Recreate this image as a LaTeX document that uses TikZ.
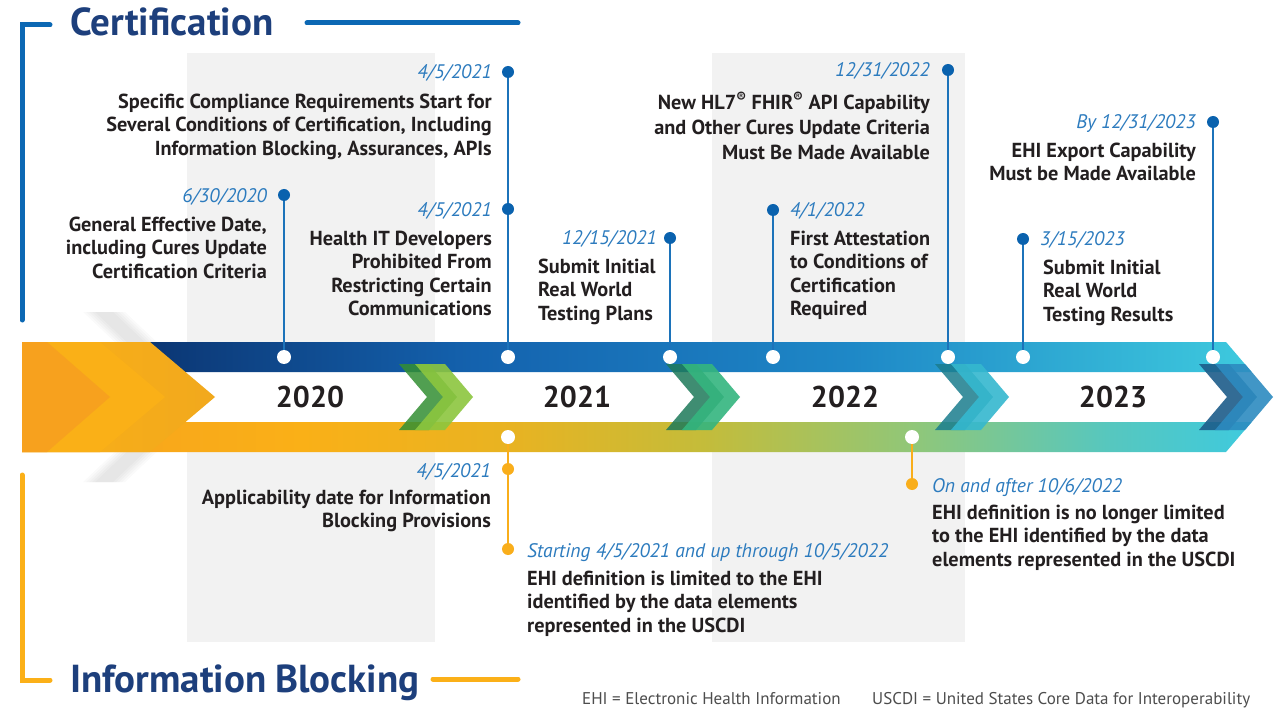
\documentclass[tikz,border=0pt]{standalone}
\usepackage{fontspec}
\setmainfont{PT Sans}
\definecolor{bandgray}{HTML}{F2F2F2}
\definecolor{bracketblue}{HTML}{0C68B4}
\definecolor{bracketorange}{HTML}{FBB018}
\definecolor{titlenavy}{HTML}{1D3F7C}
\definecolor{dateblue}{HTML}{2C7BBE}
\definecolor{txt}{HTML}{231F20}
\definecolor{dotblue}{HTML}{0A62AE}
\definecolor{lineblue}{HTML}{1C73BA}
\definecolor{dotorange}{HTML}{F9AE1B}
\definecolor{footgray}{HTML}{4D4D4D}
\definecolor{tb0}{HTML}{0B3572}
\definecolor{tb1}{HTML}{1462AE}
\definecolor{tb2}{HTML}{1E88C7}
\definecolor{tb3}{HTML}{3ECADE}
\definecolor{bb0}{HTML}{F7A11E}
\definecolor{bb1}{HTML}{FAB017}
\definecolor{bb2}{HTML}{E8B322}
\definecolor{bb3}{HTML}{C4BC3A}
\definecolor{bb4}{HTML}{8FC77A}
\definecolor{bb5}{HTML}{57C7BE}
\definecolor{bb6}{HTML}{3ECADE}
\pgfdeclarehorizontalshading{topband}{100bp}{color(0bp)=(tb0); color(25bp)=(tb0); color(40bp)=(tb1); color(57bp)=(tb2); color(75bp)=(tb3); color(100bp)=(tb3)}
\pgfdeclarehorizontalshading{botband}{100bp}{color(0bp)=(bb0); color(25bp)=(bb0); color(36.4bp)=(bb1); color(44.9bp)=(bb2); color(52.7bp)=(bb3); color(61.4bp)=(bb4); color(69.1bp)=(bb5); color(75bp)=(bb6); color(100bp)=(bb6)}
\newcommand\bodyfont{\fontsize{20.3}{23.5}\selectfont\bfseries}
\newcommand\datefont{\fontsize{19.6}{23}\selectfont\itshape}
\newcommand\titlefont{\fontsize{39}{41}\selectfont\bfseries}
\newcommand\yearfont{\fontsize{30}{32}\selectfont\bfseries}
\newcommand\footfont{\fontsize{17}{19}\selectfont}
\begin{document}
\begin{tikzpicture}[x=1pt,y=-1pt,
  bline/.style={draw=lineblue, line width=2pt},
  oline/.style={draw=dotorange, line width=2pt},
  bdot/.style={circle, fill=dotblue, minimum size=12pt, inner sep=0pt},
  odot/.style={circle, fill=dotorange, minimum size=12pt, inner sep=0pt},
  wdot/.style={circle, fill=white, minimum size=14pt, inner sep=0pt},
  datelbl/.style={font=\datefont, text=dateblue, inner sep=0pt},
  bodylbl/.style={font=\bodyfont, text=txt, inner sep=0pt},
  yearlbl/.style={font=\yearfont, text=txt, inner sep=0pt},
  titlelbl/.style={font=\titlefont, text=titlenavy, inner sep=0pt},
  footlbl/.style={font=\footfont, text=footgray, inner sep=0pt},
  brk/.style={line width=5pt, line cap=round},
  chev/.pic={\fill[pic actions] (-58,-33) -- (-28,-33) -- (0,0) -- (-28,33) -- (-58,33) -- (-30,0) -- cycle;},
  shadowchev/.pic={\fill[pic actions] (-120,-85) -- (-90,-85) -- (0,0) -- (-90,85) -- (-120,85) -- (-30,0) -- cycle;}
]
\useasboundingbox (0,0) rectangle (1281,708);
\fill[white] (0,0) rectangle (1281,708);
% background bands
\fill[bandgray] (187,53) rectangle (435,642);
\fill[bandgray] (712,53) rectangle (965,642);
% brackets and titles
\draw[brk, bracketblue] (50,25) -- (22,25) -- (22,320);
\draw[brk, bracketblue] (307,23) -- (518,23);
\draw[brk, bracketorange] (22,475) -- (22,680) -- (50,680);
\draw[brk, bracketorange] (433,679) -- (518,679);
\node[titlelbl, anchor=base west] (tcert) at (70,36) {Certification};
\node[titlelbl, anchor=base west] (tinfo) at (70,692) {Information\hspace{-1pt} Blocking};
% soft shadow of the left block
\foreach \s in {0,3,6,9,12}{
  \pic[fill=black, opacity=0.018] at (215-\s,397) {shadowchev};
}
% ribbon
\fill[white] (140,372) -- (1252,372) -- (1273,397) -- (1252,422) -- (140,422) -- cycle;
\shade[shading=topband] (140,342) -- (1226,342) -- (1251.6,372) -- (140,372) -- cycle;
\shade[shading=botband] (22,422) -- (1251.6,422) -- (1226,452) -- (22,452) -- cycle;
% left block
\shade[left color=bb1, right color=bb1!85!brown] (22,342) -- (150,342) -- (215,397) -- (150,452) -- (22,452) -- cycle;
\fill[bb1] (22,342) -- (100,342) -- (165,397) -- (100,452) -- (22,452) -- cycle;
\fill[bb0] (22,342) -- (47,342) -- (110,397) -- (47,452) -- (22,452) -- cycle;
% chevrons
\pic[fill=green!45!black!80, opacity=0.85] at (457,397) {chev};
\pic[fill={rgb,255:red,140;green,198;blue,63}, opacity=0.9] at (473,397) {chev};
\pic[fill={rgb,255:red,30;green,122;blue,90}, opacity=0.85] at (724,397) {chev};
\pic[fill={rgb,255:red,52;green,181;blue,127}, opacity=0.9] at (740,397) {chev};
\pic[fill={rgb,255:red,27;green,125;blue,142}, opacity=0.85] at (993,397) {chev};
\pic[fill={rgb,255:red,53;green,184;blue,207}, opacity=0.9] at (1009,397) {chev};
\pic[fill={rgb,255:red,29;green,93;blue,138}, opacity=0.9] at (1257,397) {chev};
\pic[fill={rgb,255:red,45;green,139;blue,192}, opacity=0.9] at (1273,397) {chev};
% years
\node[yearlbl] (y20) at (310,397) {2020};
\node[yearlbl] (y21) at (577,397) {2021};
\node[yearlbl] (y22) at (845,397) {2022};
\node[yearlbl] (y23) at (1113,397) {2023};
% dots on ribbon
\node[wdot] (w1) at (284,357) {};
\node[wdot] (w2) at (508,357) {};
\node[wdot] (w4) at (670,357) {};
\node[wdot] (w5) at (773,357) {};
\node[wdot] (w6) at (948,357) {};
\node[wdot] (w7) at (1023,357) {};
\node[wdot] (w8) at (1213,357) {};
\node[wdot] (wb1) at (508,437) {};
\node[wdot] (wb3) at (912,437) {};
% event dots
\node[bdot] (p1) at (284,195) {};
\node[bdot] (p2) at (508,72) {};
\node[bdot] (p3) at (508,209) {};
\node[bdot] (p4) at (670,238) {};
\node[bdot] (p5) at (773,210) {};
\node[bdot] (p6) at (948,70) {};
\node[bdot] (p7) at (1023,239) {};
\node[bdot] (p8) at (1213,122) {};
\node[odot] (q1) at (508,469) {};
\node[odot] (q2) at (508,549) {};
\node[odot] (q3) at (912,484) {};
% connectors
\draw[bline] (p1) -- (w1);
\draw[bline] (p2) -- (p3);
\draw[bline] (p3) -- (w2);
\draw[bline] (p4) -- (w4);
\draw[bline] (p5) -- (w5);
\draw[bline] (p6) -- (w6);
\draw[bline] (p7) -- (w7);
\draw[bline] (p8) -- (w8);
\draw[oline] (wb1) -- (q1);
\draw[oline] (q1) -- (q2);
\draw[oline] (wb3) -- (q3);
% top texts
\node[datelbl, anchor=base east] (d1) at (267,203) {6/30/2020};
\node[bodylbl, align=right, anchor=north east] (b1) at (267,216.5) {General Effective Date,\\including Cures Update\\Certification Criteria};
\node[datelbl, anchor=base east] (d2) at (492,79) {4/5/2021};
\node[bodylbl, align=right, anchor=north east] (b2) at (492,93.5) {Specific Compliance Requirements Start for\\Several Conditions of Certification, Including\\Information Blocking, Assurances, APIs};
\node[datelbl, anchor=base east] (d3) at (492,217) {4/5/2021};
\node[bodylbl, align=right, anchor=north east] (b3) at (492,230.5) {Health IT Developers\\Prohibited From\\Restricting Certain\\Communications};
\node[datelbl, anchor=base east] (d4) at (657,245) {12/15/2021};
\node[bodylbl, align=left, anchor=north west] (b4) at (538,258.5) {Submit Initial\\Real World\\Testing Plans};
\node[datelbl, anchor=base west] (d5) at (790,217) {4/1/2022};
\node[bodylbl, align=left, anchor=north west] (b5) at (790,230.5) {First Attestation\\to Conditions of\\Certification\\Required};
\node[datelbl, anchor=base east] (d6) at (930,77) {12/31/2022};
\node[bodylbl, align=right, anchor=north east, font=\fontsize{20.3}{25}\selectfont\bfseries] (b6) at (930,91.5) {New HL7\textsuperscript{®} FHIR\textsuperscript{®} API Capability\\and Other Cures Update Criteria\\Must Be Made Available};
\node[datelbl, anchor=base west] (d7) at (1040,246) {3/15/2023};
\node[bodylbl, align=left, anchor=north west] (b7) at (1043,259.5) {Submit Initial\\Real World\\Testing Results};
\node[datelbl, anchor=base east] (d8) at (1196,129) {By 12/31/2023};
\node[bodylbl, align=right, anchor=north east] (b8) at (1196,142.5) {EHI Export Capability\\Must be Made Available};
% bottom texts
\node[datelbl, anchor=base east] (e1) at (491,477) {4/5/2021};
\node[bodylbl, align=right, anchor=north east] (c1) at (491,489.5) {Applicability date for Information\\Blocking Provisions};
\node[datelbl, anchor=base west] (e2) at (527,557) {Starting 4/5/2021 and up through 10/5/2022};
\node[bodylbl, align=left, anchor=north west] (c2) at (527,570.5) {EHI definition is limited to the EHI\\identified by the data elements\\represented in the USCDI};
\node[datelbl, anchor=base west] (e3) at (932,492) {On and after 10/6/2022};
\node[bodylbl, align=left, anchor=north west] (c3) at (932,504.5) {EHI definition is no longer limited\\to the EHI identified by the data\\elements represented in the USCDI};
% footer
\node[footlbl, anchor=base west] (f1) at (582,704) {EHI = Electronic Health Information};
\node[footlbl, anchor=base west] (f2) at (872,704) {USCDI = United States Core Data for Interoperability};
\end{tikzpicture}
\end{document}
